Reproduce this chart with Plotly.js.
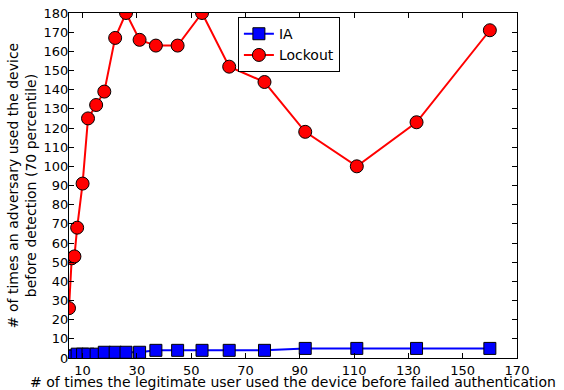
<!DOCTYPE html>
<html>
<head>
<meta charset="utf-8">
<script src="https://cdn.plot.ly/plotly-3.0.1.min.js"></script>
<style>html,body{margin:0;padding:0;background:#fff;}#chart{width:564px;height:390px;}</style>
</head>
<body>
<div id="chart"></div>
<script>
const usesBeforeFail = [5, 6, 7, 8, 10, 12, 15, 18, 22, 26, 31, 37, 45, 54, 64, 77, 92, 111, 133, 160];
const iaValues = [1, 1, 1, 2, 2, 2, 2, 3, 3, 3, 3, 4, 4, 4, 4, 4, 5, 5, 5, 5];
const lockoutValues = [26, 52, 53, 68, 91, 125, 132, 139, 167, 180, 166, 163, 163, 180, 152, 144, 118, 100, 123, 171];
const xTicks = [10, 30, 50, 70, 90, 110, 130, 150, 170];
const yTicks = [0, 10, 20, 30, 40, 50, 60, 70, 80, 90, 100, 110, 120, 130, 140, 150, 160, 170, 180];

const font = {family: "DejaVu Sans", size: 13, color: "#000"};
const titleFont = {family: "DejaVu Sans", size: 14, color: "#000"};
const traces = [
  {x: usesBeforeFail, y: iaValues, name: "IA", type: "scatter", mode: "lines+markers",
   line: {color: "#0000ff", width: 2},
   marker: {symbol: "square", size: 12, color: "#0000ff", line: {color: "#000", width: 1}}},
  {x: usesBeforeFail, y: lockoutValues, name: "Lockout", type: "scatter", mode: "lines+markers",
   line: {color: "#ff0000", width: 2},
   marker: {symbol: "circle", size: 13, color: "#ff0000", line: {color: "#000", width: 1}}}
];
const axisCommon = {showgrid: false, zeroline: false, showline: true, linecolor: "#000", linewidth: 1,
  mirror: "ticks", ticks: "inside", ticklen: 5, tickcolor: "#000", tickfont: font};
const layout = {
  width: 564, height: 390,
  margin: {l: 69, r: 47, t: 13, b: 32},
  paper_bgcolor: "#fff", plot_bgcolor: "#fff",
  font: font,
  showlegend: true,
  legend: {x: 0.377, y: 0.988, xanchor: "left", yanchor: "top", bgcolor: "#fff",
    bordercolor: "#000", borderwidth: 1, tracegroupgap: 0, itemwidth: 30,
    font: {family: "DejaVu Sans", size: 14, color: "#000"}},
  xaxis: Object.assign({}, axisCommon, {range: [5, 170], tickvals: xTicks,
    title: {text: "# of times the legitimate user used the device before failed authentication",
      font: titleFont, standoff: 3}}),
  yaxis: Object.assign({}, axisCommon, {range: [0, 180], tickvals: yTicks, ticklabelstandoff: -3,
    title: {text: "# of times an adversary used the device<br>before detection (70 percentile)",
      font: titleFont, standoff: 3}})
};
Plotly.newPlot("chart", traces, layout, {displayModeBar: false, staticPlot: true});
</script>
</body>
</html>
